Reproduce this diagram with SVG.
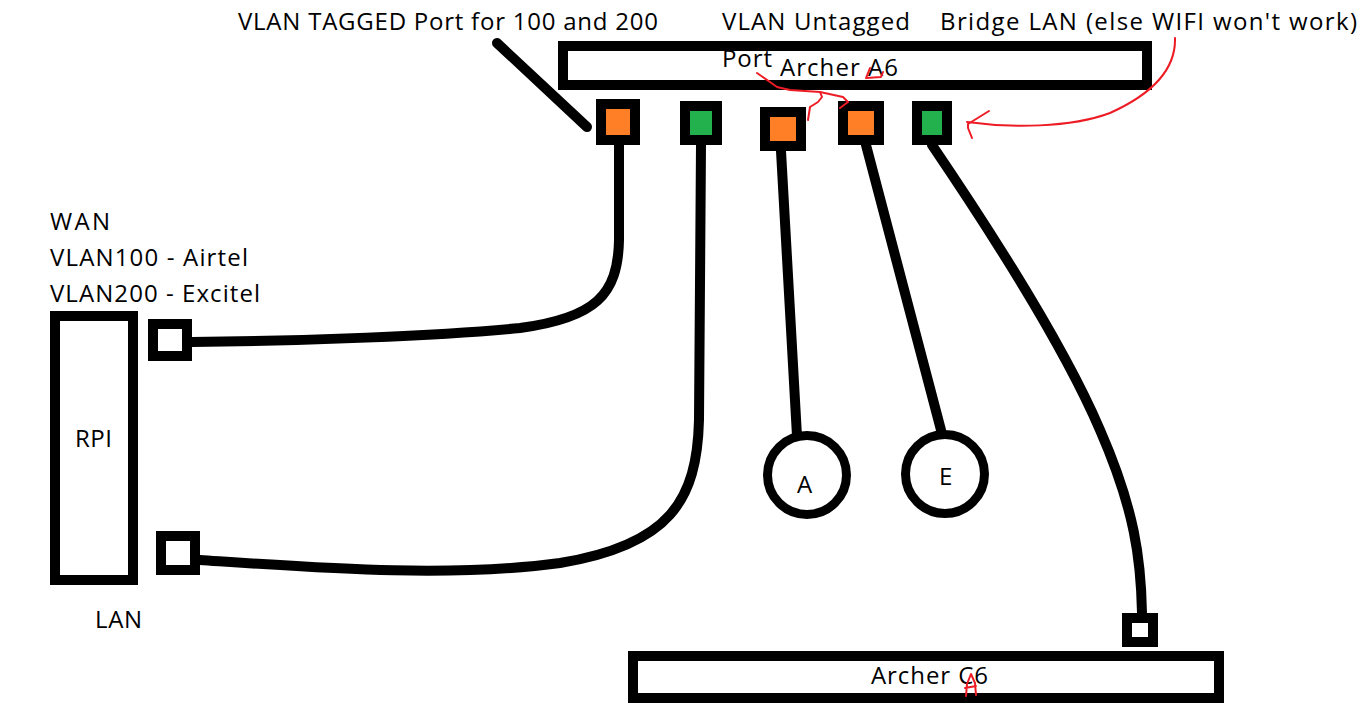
<svg xmlns="http://www.w3.org/2000/svg" width="1363" height="715" viewBox="0 0 1363 715">
<style>
text{font-family:"Open Sans","Liberation Sans",sans-serif;font-size:24px;fill:#000}
.box{fill:#fff;stroke:#000;stroke-width:10;stroke-linejoin:miter}
.circ{fill:#fff;stroke:#000;stroke-width:9}
.cable{fill:none;stroke:#000;stroke-width:10;stroke-linecap:round;stroke-linejoin:round}
.red{fill:none;stroke:#ED1C24;stroke-width:2;stroke-linejoin:round;stroke-linecap:round}
.blk{fill:#000}
.org{fill:#FF7F27}
.grn{fill:#22B14C}
</style>
<rect width="1363" height="715" fill="#fff"/>
<g id="connectors">
<path class="cable" d="M619,145 L619,240 C618,295 595,318 520,328 C440,336 300,341 192,342"/>
<path class="cable" d="M701,145 L699,420 C697,500 670,545 560,563 C450,578 320,568 200,560"/>
<path class="cable" d="M781,151 L797,436"/>
<path class="cable" d="M866,145 L941,430"/>
<path class="cable" d="M932,145 C1010,260 1070,360 1100,430 C1135,510 1141,560 1142,613"/>
<path class="cable" d="M497,43 L587,127"/>
</g>
<g id="archer-a6">
<rect class="box" x="563" y="46" width="584" height="39"/>
<text x="780" y="76" textLength="118">Archer A6</text>
</g>
<g id="port1"><rect class="blk" x="596" y="99" width="44" height="46"/><rect class="org" x="606" y="109" width="24" height="26"/></g>
<g id="port2"><rect class="blk" x="680" y="101" width="42" height="44"/><rect class="grn" x="690" y="111" width="22" height="24"/></g>
<g id="port3"><rect class="blk" x="760" y="107" width="46" height="44"/><rect class="org" x="770" y="117" width="26" height="24"/></g>
<g id="port4"><rect class="blk" x="838" y="101" width="46" height="44"/><rect class="org" x="848" y="111" width="26" height="24"/></g>
<g id="port5"><rect class="blk" x="912" y="101" width="40" height="44"/><rect class="grn" x="922" y="111" width="20" height="24"/></g>
<g id="rpi">
<rect class="box" x="55" y="316" width="78" height="264"/>
<text x="75" y="447" textLength="37">RPI</text>
</g>
<g id="rpi-wan-port"><rect class="box" x="153" y="324" width="34" height="32"/></g>
<g id="rpi-lan-port"><rect class="box" x="161" y="536" width="34" height="34"/></g>
<g id="node-a">
<circle class="circ" cx="807" cy="475" r="39.5"/>
<text x="797" y="493">A</text>
</g>
<g id="node-e">
<circle class="circ" cx="945" cy="474" r="39.5"/>
<text x="939" y="485">E</text>
</g>
<g id="archer-c6">
<rect class="box" x="633" y="656" width="586" height="42"/>
<text x="871" y="684" textLength="117">Archer C6</text>
</g>
<g id="archer-c6-port"><rect class="box" x="1127" y="618" width="26" height="24"/></g>
<g id="labels">
<text x="238" y="30" textLength="420">VLAN TAGGED Port for 100 and 200</text>
<text x="722" y="30" textLength="188">VLAN Untagged</text>
<text x="722" y="67" textLength="50">Port</text>
<text x="940" y="30" textLength="417">Bridge LAN (else WIFI won't work)</text>
<text x="50" y="230" textLength="60">WAN</text>
<text x="50" y="266" textLength="198">VLAN100 - Airtel</text>
<text x="50" y="302" textLength="210">VLAN200 - Excitel</text>
<text x="95" y="628" textLength="47">LAN</text>
</g>
<g id="annotations">
<path class="red" d="M1175,38 C1176,70 1150,95 1110,113 C1070,128 1010,128 967,122"/>
<path class="red" d="M989,111 L968,124 L968,128 L972,138"/>
<path class="red" d="M757,73 L770,82 L777,87 L790,90 L820,92 L843,97 L848,102 L840,108"/>
<path class="red" d="M820,92 L822,97 L818,102 L810,107 L808,120"/>
<path class="red" d="M870,68 L866,78 L881,77 L883,72"/>
<path class="red" d="M966,696 L967,684 L971,674 L975,683 L976,695 M965,688 L976,686"/>
</g>
</svg>
